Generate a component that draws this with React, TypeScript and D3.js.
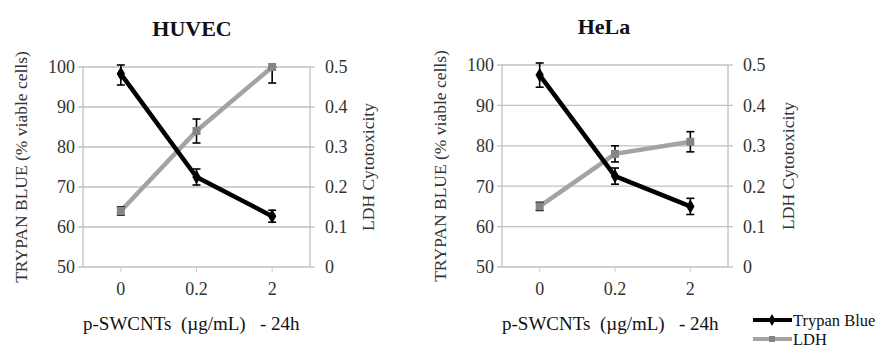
import * as d3 from "d3";

const doses = ["0", "0.2", "2"];
const leftTicks = [50, 60, 70, 80, 90, 100];
const rightTicks = [0, 0.1, 0.2, 0.3, 0.4, 0.5];

const huvecTrypan = [98.3, 72.5, 62.7];
const huvecTrypanErr = [2.8, 2, 1.5];
const huvecLdh = [0.14, 0.34, 0.5];
const huvecLdhErr = [0.01, 0.03, 0.04];

const helaTrypan = [97.5, 72.5, 65];
const helaTrypanErr = [3, 2, 2];
const helaLdh = [0.15, 0.28, 0.31];
const helaLdhErr = [0.01, 0.02, 0.025];

const SERIF = "Liberation Serif";
const txt = { fontFamily: SERIF, fontWeight: "normal" as const };
// baseline shift for vertically centred labels
const mid = (size: number) => size * 0.35;

type PanelProps = {
  trypan: number[];
  trypanErr: number[];
  ldh: number[];
  ldhErr: number[];
  left: number;
  right: number;
  top: number;
  bottom: number;
  yTitleX: number;
  y2TitleX: number;
};

function Panel({
  trypan,
  trypanErr,
  ldh,
  ldhErr,
  left,
  right,
  top,
  bottom,
  yTitleX,
  y2TitleX,
}: PanelProps) {
  const x = d3.scaleBand().domain(doses).range([left, right]);
  const y = d3.scaleLinear().domain([50, 100]).range([bottom, top]);
  const y2 = d3.scaleLinear().domain([0, 0.5]).range([bottom, top]);
  const cx = (d: string) => (x(d) ?? 0) + x.bandwidth() / 2;

  const trypanLine = d3.line<number>((_, i) => cx(doses[i]), y);
  const ldhLine = d3.line<number>((_, i) => cx(doses[i]), y2);
  const midY = (top + bottom) / 2;

  const errBar = (xc: number, lo: number, hi: number, key: string) => (
    <g key={key} stroke="#000" strokeWidth={1.6}>
      <line x1={xc} x2={xc} y1={lo} y2={hi} />
      <line x1={xc - 4} x2={xc + 4} y1={lo} y2={lo} />
      <line x1={xc - 4} x2={xc + 4} y1={hi} y2={hi} />
    </g>
  );

  return (
    <g>
      {leftTicks.map((t) => (
        <g key={t}>
          <line x1={left - 5} x2={right} y1={y(t)} y2={y(t)} stroke="#c0c0c0" strokeWidth={1.3} />
          <text x={left - 8} y={y(t) + mid(18)} textAnchor="end" style={txt} fontSize={18} fill="#333">
            {t}
          </text>
        </g>
      ))}
      {rightTicks.map((t) => (
        <g key={t}>
          <line x1={right} x2={right + 5} y1={y2(t)} y2={y2(t)} stroke="#c0c0c0" strokeWidth={1.3} />
          <text x={right + 15} y={y2(t) + mid(18)} style={txt} fontSize={18} fill="#333">
            {t}
          </text>
        </g>
      ))}
      <line x1={left} x2={left} y1={top} y2={bottom} stroke="#c0c0c0" strokeWidth={1.3} />
      <line x1={right} x2={right} y1={top} y2={bottom} stroke="#c0c0c0" strokeWidth={1.3} />
      {doses.map((d) => (
        <g key={d}>
          <line x1={cx(d)} x2={cx(d)} y1={bottom} y2={bottom + 5} stroke="#d0d0d0" strokeWidth={1} />
          <text
            x={cx(d)}
            y={bottom + 22 + mid(18)}
            textAnchor="middle"
            style={txt}
            fontSize={18}
            fill="#333"
          >
            {d}
          </text>
        </g>
      ))}

      <text
        transform={`translate(${yTitleX + mid(17.5)},${midY}) rotate(-90)`}
        textAnchor="middle"
        style={txt}
        fontSize={17.5}
        fill="#333"
      >
        TRYPAN BLUE (% viable cells)
      </text>
      <text
        transform={`translate(${y2TitleX + mid(17.5)},${midY}) rotate(-90)`}
        textAnchor="middle"
        style={txt}
        fontSize={17.5}
        fill="#333"
      >
        LDH Cytotoxicity
      </text>
      <text
        x={left}
        y={bottom + 56 + mid(19)}
        style={{ ...txt, whiteSpace: "pre" }}
        fontSize={19}
        fill="#111"
      >
        {"p-SWCNTs  (µg/mL)   - 24h"}
      </text>

      <path d={ldhLine(ldh) ?? undefined} fill="none" stroke="#a3a3a3" strokeWidth={4.5} />
      <path d={trypanLine(trypan) ?? undefined} fill="none" stroke="#000" strokeWidth={4.5} />

      {ldh.map((v, i) =>
        errBar(
          cx(doses[i]),
          y2(Math.max(0, v - ldhErr[i])),
          y2(Math.min(0.5, v + ldhErr[i])),
          `le${i}`
        )
      )}
      {trypan.map((v, i) =>
        errBar(
          cx(doses[i]),
          y(Math.max(50, v - trypanErr[i])),
          y(Math.min(100.5, v + trypanErr[i])),
          `te${i}`
        )
      )}

      {ldh.map((v, i) => (
        <rect key={`ls${i}`} x={cx(doses[i]) - 4} y={y2(v) - 4} width={8} height={8} fill="#858585" />
      ))}
      {trypan.map((v, i) => (
        <path
          key={`td${i}`}
          d={d3.symbol(d3.symbolDiamond, 60)() ?? undefined}
          transform={`translate(${cx(doses[i])},${y(v)})`}
          fill="#000"
        />
      ))}
    </g>
  );
}

export default function App() {
  return (
    <svg width={883} height={349} style={{ position: "absolute", left: 0, top: 0 }}>
      <rect width={883} height={349} fill="#fff" />
      <Panel
        trypan={huvecTrypan}
        trypanErr={huvecTrypanErr}
        ldh={huvecLdh}
        ldhErr={huvecLdhErr}
        left={83}
        right={310}
        top={67}
        bottom={267}
        yTitleX={21}
        y2TitleX={368}
      />
      <Panel
        trypan={helaTrypan}
        trypanErr={helaTrypanErr}
        ldh={helaLdh}
        ldhErr={helaLdhErr}
        left={502}
        right={728}
        top={65}
        bottom={267}
        yTitleX={440}
        y2TitleX={788}
      />
      <g>
        <line x1={753} x2={792} y1={320} y2={320} stroke="#000" strokeWidth={4} />
        <path
          d={d3.symbol(d3.symbolDiamond, 40)() ?? undefined}
          transform="translate(772,320)"
          fill="#000"
        />
        <text x={793} y={320 + mid(16.5)} style={txt} fontSize={16.5} fill="#111">
          Trypan Blue
        </text>
        <line x1={753} x2={792} y1={339} y2={339} stroke="#a3a3a3" strokeWidth={4} />
        <rect x={769} y={336} width={6} height={6} fill="#858585" />
        <text x={793} y={339 + mid(16.5)} style={txt} fontSize={16.5} fill="#111">
          LDH
        </text>
      </g>
      {/* bold titles last */}
      <text
        x={192}
        y={36}
        textAnchor="middle"
        style={{ fontFamily: SERIF, fontWeight: "bold" }}
        fontSize={22}
        fill="#111"
      >
        HUVEC
      </text>
      <text
        x={604}
        y={34}
        textAnchor="middle"
        style={{ fontFamily: SERIF, fontWeight: "bold" }}
        fontSize={22}
        fill="#111"
      >
        HeLa
      </text>
    </svg>
  );
}
